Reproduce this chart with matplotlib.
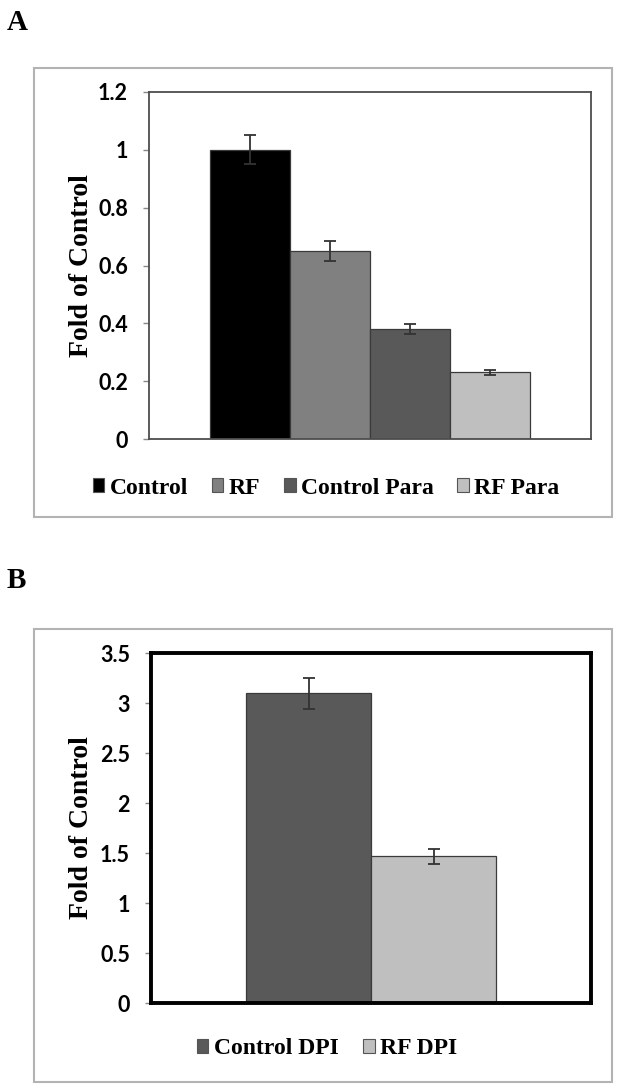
import matplotlib
matplotlib.use("Agg")
import matplotlib.pyplot as plt
from matplotlib.patches import Patch, Rectangle

# ---- data ----
a_labels = ["Control", "RF", "Control Para", "RF Para"]
a_values = [1.0, 0.65, 0.38, 0.23]
a_errors = [0.05, 0.034, 0.018, 0.01]
a_colors = ["#000000", "#808080", "#595959", "#bfbfbf"]
a_ticks = [0, 0.2, 0.4, 0.6, 0.8, 1, 1.2]
a_ticklabels = ["0", "0.2", "0.4", "0.6", "0.8", "1", "1.2"]

b_labels = ["Control DPI", "RF DPI"]
b_values = [3.1, 1.47]
b_errors = [0.155, 0.075]
b_colors = ["#595959", "#bfbfbf"]
b_ticks = [0, 0.5, 1, 1.5, 2, 2.5, 3, 3.5]
b_ticklabels = ["0", "0.5", "1", "1.5", "2", "2.5", "3", "3.5"]

W, H = 620, 1089
fig = plt.figure(figsize=(W / 100, H / 100), dpi=100)

SERIF = "Liberation Serif"
SANS = "Lato"
GAP = 0.76
PX = 0.72  # points per pixel at 100 dpi


def rect(x0, y0, x1, y1):
    # pixel box (top-left origin) -> figure fraction rect
    return [x0 / W, (H - y1) / H, (x1 - x0) / W, (y1 - y0) / H]


def outer_box(x0, y0, x1, y1):
    r = Rectangle((x0 / W, (H - y1) / H), (x1 - x0) / W, (y1 - y0) / H,
                  transform=fig.transFigure, fill=False,
                  edgecolor="#b3b3b3", linewidth=1.5, zorder=0)
    fig.patches.append(r)


def panel(box, values, errors, colors, labels, ticks, ticklabels, ymax,
          spine_color, spine_width, legend_x, legend_y, legend_cols_space):
    ax = fig.add_axes(rect(*box))
    n = len(values)
    xs = list(range(n))
    ax.bar(xs, values, width=1.0, color=colors, edgecolor="#3a3a3a",
           linewidth=0.9, zorder=2)
    ax.errorbar(xs, values, yerr=errors, fmt="none", ecolor="#333333",
                elinewidth=1.3, capsize=4.5, capthick=1.3, zorder=3)
    ax.set_xlim(-0.5 - GAP, n - 0.5 + GAP)
    ax.set_ylim(0, ymax)
    ax.set_xticks([])
    ax.set_yticks(ticks)
    ax.set_yticklabels(ticklabels, fontfamily=SANS, fontweight="bold",
                       fontsize=15.5)
    ax.tick_params(axis="y", direction="out", length=6 * PX, width=1,
                   color="#888888", pad=15 * PX)
    for s in ax.spines.values():
        s.set_color(spine_color)
        s.set_linewidth(spine_width)
    ax.set_ylabel("Fold of Control", fontfamily=SERIF, fontweight="bold",
                  fontsize=20)
    x_lab = (94 - box[0]) / (box[2] - box[0])
    ax.yaxis.set_label_coords(x_lab, 0.5)
    handles = [Patch(facecolor=c, edgecolor="#555555", linewidth=0.8)
               for c in colors]
    fig.legend(handles, labels, loc="center",
               bbox_to_anchor=(legend_x / W, (H - legend_y) / H), ncol=n,
               frameon=False, prop={"family": SERIF, "weight": "bold",
                                    "size": 17},
               handlelength=0.5, handleheight=0.5, handletextpad=0.22,
               columnspacing=legend_cols_space, borderpad=0)
    return ax


outer_box(34, 68, 612, 517)
outer_box(34, 629, 612, 1082)

panel((149, 92, 591, 439), a_values, a_errors, a_colors, a_labels,
      a_ticks, a_ticklabels, 1.2, "#4d4d4d", 1.3, 326, 488, 1.0)
panel((151, 653, 591, 1003), b_values, b_errors, b_colors, b_labels,
      b_ticks, b_ticklabels, 3.5, "#000000", 2.8, 327, 1049, 1.05)

fig.text(7 / W, 1 - 22 / H, "A", fontfamily=SERIF, fontweight="bold",
         fontsize=21, va="center", ha="left")
fig.text(7 / W, 1 - 580 / H, "B", fontfamily=SERIF, fontweight="bold",
         fontsize=21, va="center", ha="left")

fig.savefig("out.png", dpi=100, facecolor="white")
